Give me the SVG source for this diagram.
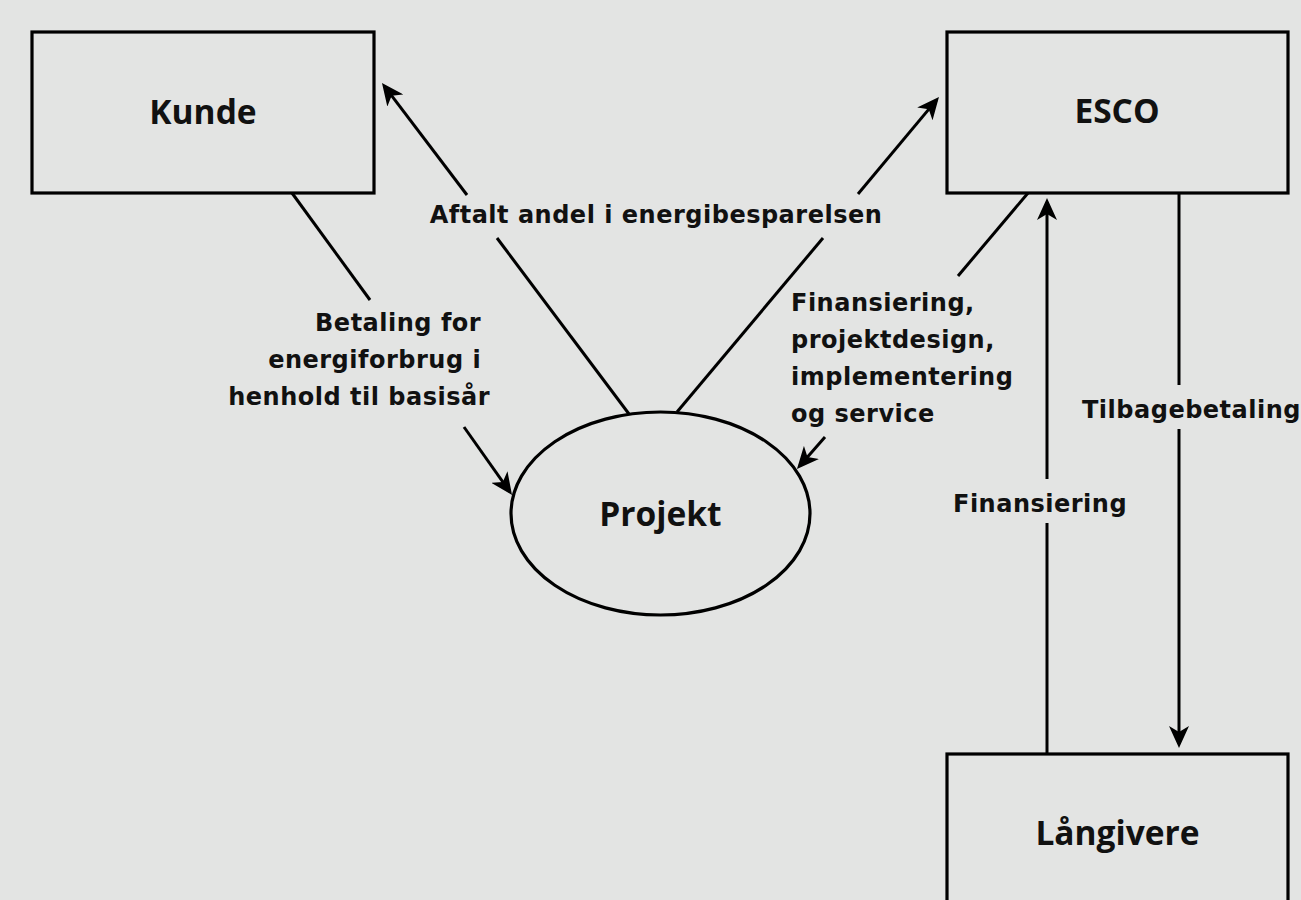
<svg xmlns="http://www.w3.org/2000/svg" width="1301" height="900" viewBox="0 0 1301 900">
  <defs>
    <marker id="arr" markerUnits="userSpaceOnUse" viewBox="0 0 22 20" refX="18" refY="10" markerWidth="22" markerHeight="20" orient="auto">
      <path d="M0,0 L22,10 L0,20 L6,10 z" fill="#000"/>
    </marker>
    <style>
      .box { fill: none; stroke: #000; stroke-width: 3.2; }
      .node { font-family: "Open Sans", "Noto Sans", "DejaVu Sans", sans-serif; font-weight: bold; font-size: 33.5px; fill: #111; text-anchor: middle; }
      .lbl { font-family: "DejaVu Sans", "Verdana", sans-serif; font-weight: bold; font-size: 24px; letter-spacing: 0.5px; fill: #111; }
      .ln { fill: none; stroke: #000; stroke-width: 3; }
    </style>
  </defs>
  <rect x="0" y="0" width="1301" height="900" fill="#e3e4e3"/>

  <g id="connectors">
    <!-- Kunde -> Projekt -->
    <line class="ln" x1="292" y1="193" x2="370" y2="300"/>
    <line class="ln" x1="464" y1="427" x2="509.7" y2="491.7" marker-end="url(#arr)"/>
    <!-- Projekt -> Kunde -->
    <line class="ln" x1="629" y1="414" x2="497" y2="238"/>
    <line class="ln" x1="467" y1="195" x2="384.4" y2="86.2" marker-end="url(#arr)"/>
    <!-- Projekt -> ESCO -->
    <line class="ln" x1="677" y1="412" x2="823" y2="238"/>
    <line class="ln" x1="858" y1="194" x2="936.4" y2="100.1" marker-end="url(#arr)"/>
    <!-- ESCO -> Projekt -->
    <line class="ln" x1="1028" y1="193" x2="958" y2="276"/>
    <line class="ln" x1="825" y1="437" x2="799.6" y2="466" marker-end="url(#arr)"/>
    <!-- Långivere -> ESCO -->
    <line class="ln" x1="1047" y1="754" x2="1047" y2="523"/>
    <line class="ln" x1="1047" y1="479" x2="1047" y2="202" marker-end="url(#arr)"/>
    <!-- ESCO -> Långivere -->
    <line class="ln" x1="1179" y1="193" x2="1179" y2="385"/>
    <line class="ln" x1="1179" y1="429" x2="1179" y2="744" marker-end="url(#arr)"/>
  </g>

  <g id="labels">
    <text class="lbl" x="656" y="223" text-anchor="middle">Aftalt andel i energibesparelsen</text>
    <text class="lbl" text-anchor="end">
      <tspan x="490" y="331">Betaling for</tspan>
      <tspan x="490" y="368">energiforbrug i</tspan>
      <tspan x="490" y="405">henhold til basisår</tspan>
    </text>
    <text class="lbl">
      <tspan x="791" y="311">Finansiering,</tspan>
      <tspan x="791" y="348">projektdesign,</tspan>
      <tspan x="791" y="385">implementering</tspan>
      <tspan x="791" y="422">og service</tspan>
    </text>
    <text class="lbl" x="1082" y="418">Tilbagebetaling</text>
    <text class="lbl" x="953" y="512">Finansiering</text>
  </g>

  <g id="kunde">
    <rect class="box" x="32" y="32" width="342" height="161"/>
    <text class="node" x="203" y="124">Kunde</text>
  </g>
  <g id="esco">
    <rect class="box" x="947" y="32" width="341" height="161"/>
    <text class="node" x="1117" y="123">ESCO</text>
  </g>
  <g id="projekt">
    <ellipse class="box" cx="660.5" cy="513.5" rx="149.5" ry="101.5"/>
    <text class="node" x="660.5" y="526">Projekt</text>
  </g>
  <g id="langivere">
    <rect class="box" x="947" y="754" width="341" height="161"/>
    <text class="node" x="1117.5" y="845">Långivere</text>
  </g>
</svg>
